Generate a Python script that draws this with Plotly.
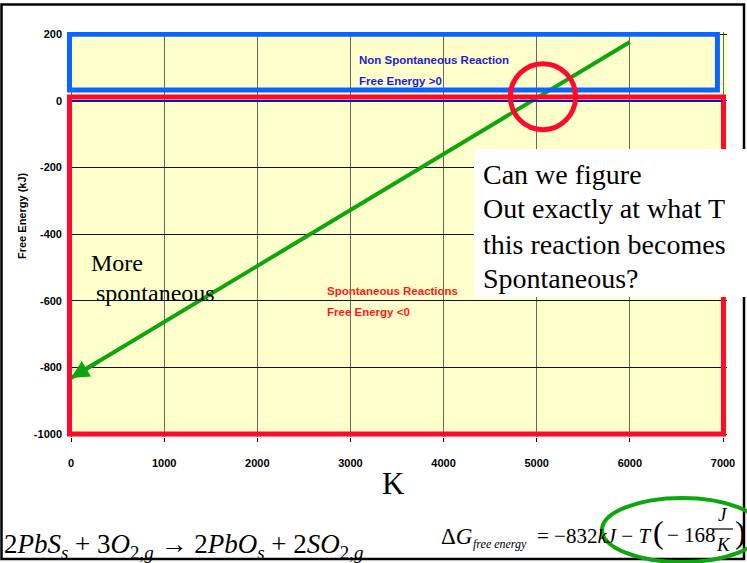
import plotly.graph_objects as go

# Free energy of 2PbS + 3O2 -> 2PbO + 2SO2 as a function of temperature
temperature_k = [0, 6000]
free_energy_kj = [-832, 176]

x_ticks = [0, 1000, 2000, 3000, 4000, 5000, 6000, 7000]
y_ticks = [-1000, -800, -600, -400, -200, 0, 200]

W, H = 747, 563
L, R, T, B = 67, 727, 32, 437          # plot-area edges in pixels
PW, PH = R - L, B - T


def px(xp):
    return (xp - L) / PW


def py(yp):
    return (B - yp) / PH


SANS = "Liberation Sans, Arial, sans-serif"
SERIF = "Liberation Serif, Times New Roman, serif"
GREEN = "#0ea50e"
RED = "#ff0a2e"
BLUE = "#0a64ff"

fig = go.Figure()
fig.add_trace(go.Scatter(
    x=temperature_k, y=free_energy_kj, mode="lines",
    line=dict(color=GREEN, width=4), showlegend=False, hoverinfo="skip",
))

shapes = []
# page frame
shapes.append(dict(type="rect", xref="paper", yref="paper",
                   x0=px(1.5), x1=px(744), y0=py(4.5), y1=py(559),
                   line=dict(color="black", width=2.5), layer="below"))
# non-spontaneous region (G > 0)
shapes.append(dict(type="rect", xref="x", yref="y",
                   x0=-16, x1=6940, y0=32, y1=199,
                   line=dict(color=BLUE, width=5), layer="above"))
# spontaneous region (G < 0)
shapes.append(dict(type="rect", xref="x", yref="y",
                   x0=-16, x1=7005, y0=-1000, y1=11,
                   line=dict(color=RED, width=5), layer="above"))
# zero line
shapes.append(dict(type="line", xref="x", yref="y",
                   x0=10, x1=6995, y0=-1, y1=-1,
                   line=dict(color="#1010b0", width=2), layer="above"))
# circle around the crossover point
shapes.append(dict(type="circle", xref="x", yref="y",
                   x0=5067 - 350, x1=5067 + 350, y0=12 - 99, y1=12 + 99,
                   line=dict(color=RED, width=5), layer="above"))
# white box behind the question
shapes.append(dict(type="rect", xref="paper", yref="paper",
                   x0=px(474), x1=px(750), y0=py(297), y1=py(149),
                   fillcolor="white", line=dict(width=0), layer="above"))
# ellipse around the entropy term
shapes.append(dict(type="circle", xref="paper", yref="paper",
                   x0=px(602), x1=px(762), y0=py(562), y1=py(498),
                   line=dict(color=GREEN, width=4), layer="above"))
# fraction bar J/K
shapes.append(dict(type="line", xref="paper", yref="paper",
                   x0=px(713), x1=px(733), y0=py(529), y1=py(529),
                   line=dict(color="black", width=1.2), layer="above"))

ann = []


def text(x, y, s, size, family, color="black", xanchor="left", weight="normal", angle=0):
    ann.append(dict(xref="paper", yref="paper", x=px(x), y=py(y), text=s,
                    showarrow=False, xanchor=xanchor, yanchor="middle",
                    textangle=angle,
                    font=dict(size=size, family=family, color=color, weight=weight)))


# arrow at the low-temperature end of the line
ann.append(dict(xref="x", yref="y", axref="x", ayref="y",
                x=0, y=free_energy_kj[0], ax=320, ay=free_energy_kj[0] + 0.168 * 320,
                text="", showarrow=True, arrowhead=2, arrowsize=0.9,
                arrowwidth=4, arrowcolor=GREEN))

text(357, 60, "Non Spontaneous Reaction", 11.5, SANS, "#1c1ce0", weight="bold")
text(357, 81, "Free Energy >0", 11.5, SANS, "#1c1ce0", weight="bold")
text(325, 291, "Spontaneous Reactions", 11.5, SANS, "#ff1a1a", weight="bold")
text(325, 312, "Free Energy <0", 11.5, SANS, "#ff1a1a", weight="bold")

text(89, 263, "More", 24, SERIF)
text(94, 293, "spontaneous", 24, SERIF)

for yy, line in zip([174, 209, 244, 278],
                    ["Can we figure", "Out exactly at what T",
                     "this reaction becomes", "Spontaneous?"]):
    text(481, yy, line, 28, SERIF)

text(22, 216, "Free Energy (kJ)", 11, SANS, xanchor="center", weight="bold", angle=-90)
text(393, 483, "K", 31, SERIF, xanchor="center")

# reaction equation
text(2, 546,
     "2<i>PbS</i><sub><i>s</i></sub> + 3<i>O</i><sub>2,<i>g</i></sub> \u2192 "
     "2<i>PbO</i><sub><i>s</i></sub> + 2<i>SO</i><sub>2,<i>g</i></sub>",
     27, SERIF)

# free energy expression
text(439, 536, "\u0394<i>G</i>", 23, SERIF)
text(471, 544, "<i>free energy</i>", 12, SERIF)
text(535, 536, "= \u2212832<i>kJ</i> \u2212 <i>T</i>", 21, SERIF)
text(651, 532, "(", 32, SERIF)
text(665, 535, "\u2212 168", 21, SERIF)
text(723, 514, "<i>J</i>", 19, SERIF, xanchor="center")
text(723, 544, "<i>K</i>", 19, SERIF, xanchor="center")
text(733, 532, ")", 32, SERIF)

tickfont = dict(family=SANS, size=11, color="black", weight="bold")
fig.update_layout(
    width=W, height=H,
    margin=dict(l=L, r=W - R, t=T, b=H - B, pad=0),
    paper_bgcolor="white", plot_bgcolor="#ffffcc",
    shapes=shapes, annotations=ann, showlegend=False,
    xaxis=dict(range=[-42.9, 7042.9], tickvals=x_ticks, ticktext=[str(v) for v in x_ticks],
               showgrid=True, gridcolor="#6a6a5a", gridwidth=1, zeroline=False,
               ticks="outside", ticklen=4, tickcolor="black", ticklabelstandoff=12,
               tickfont=tickfont, fixedrange=True),
    yaxis=dict(range=[-1009, 206], tickvals=y_ticks, ticktext=[str(v) for v in y_ticks],
               showgrid=True, gridcolor="#111111", gridwidth=1, zeroline=False,
               ticks="", ticklabelstandoff=4, tickfont=tickfont, fixedrange=True),
)

fig.write_html("out.html")
